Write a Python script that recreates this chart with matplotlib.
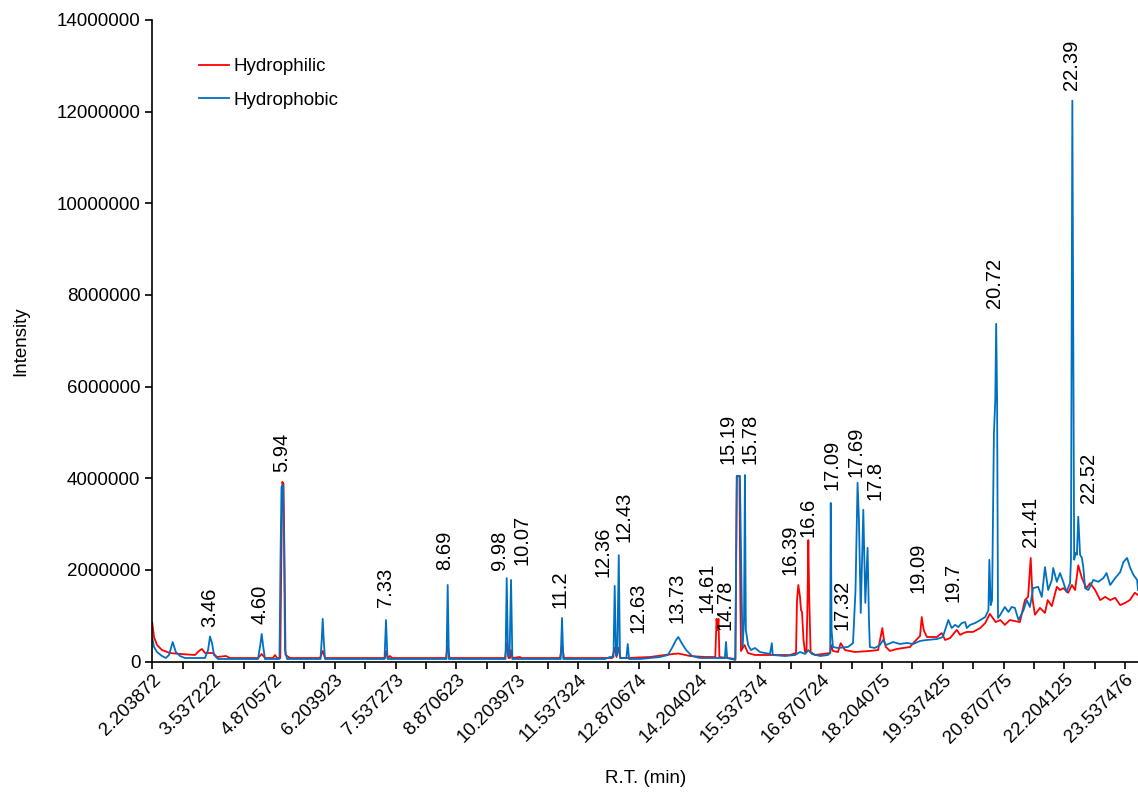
import matplotlib.pyplot as plt
import numpy as np

plt.rcParams['font.family'] = ['Liberation Sans', 'DejaVu Sans']

# chromatogram traces (R.T. in min, intensity)
red_rt = [2.204, 2.241, 2.307, 2.417, 2.592, 2.811, 3.140, 3.228, 3.294, 3.360,
          3.535, 3.622, 3.820, 3.908, 4.522, 4.603, 4.675, 4.851, 4.895, 4.939,
          5.011, 5.033, 5.055, 5.081, 5.103, 5.125, 5.224, 5.882, 5.941, 5.992,
          7.307, 7.329, 7.373, 7.416, 7.460, 8.645, 8.682, 8.722, 9.939, 9.976,
          10.015, 10.049, 10.071, 10.104, 10.267, 10.300, 11.145, 11.189, 11.233, 12.290,
          12.344, 12.384, 12.433, 12.472, 12.600, 13.120, 13.440, 13.740, 13.996, 14.330,
          14.550, 14.578, 14.600, 14.620, 14.640, 14.990, 15.022, 15.080, 15.100, 15.114,
          15.190, 15.267, 15.420, 16.190, 16.320, 16.342, 16.371, 16.393, 16.408, 16.430,
          16.452, 16.485, 16.518, 16.550, 16.574, 16.590, 16.610, 16.640, 16.737, 17.070,
          17.088, 17.130, 17.240, 17.300, 17.395, 17.610, 17.940, 18.120, 18.213, 18.250,
          18.290, 18.380, 18.530, 18.670, 18.820, 18.890, 19.000, 19.040, 19.077, 19.120,
          19.190, 19.410, 19.516, 19.590, 19.700, 19.845, 19.920, 19.990, 20.070, 20.200,
          20.360, 20.470, 20.570, 20.700, 20.800, 20.900, 21.010, 21.230, 21.340, 21.410,
          21.467, 21.510, 21.560, 21.670, 21.780, 21.840, 21.930, 22.040, 22.110, 22.180,
          22.290, 22.370, 22.440, 22.510, 22.590, 22.690, 22.770, 22.880, 22.990, 23.100,
          23.210, 23.320, 23.430, 23.540, 23.640, 23.750, 23.820]
red_int = [840000, 535000, 360000, 250000, 185000, 165000, 142000, 230000, 273000, 185000,
           185000, 98000, 120000, 76000, 76000, 164000, 76000, 76000, 142000, 76000,
           76000, 2220000, 3920000, 3880000, 2220000, 142000, 76000, 76000, 230000, 76000,
           76000, 230000, 76000, 120000, 76000, 76000, 360000, 76000, 76000, 400000,
           76000, 76000, 250000, 76000, 98000, 76000, 76000, 360000, 76000, 76000,
           300000, 98000, 300000, 76000, 76000, 98000, 142000, 175000, 120000, 98000,
           98000, 930000, 690000, 930000, 98000, 55000, 4050000, 4050000, 1300000, 230000,
           360000, 185000, 142000, 142000, 185000, 1340000, 1670000, 1520000, 1410000, 1120000,
           1080000, 470000, 207000, 207000, 1400000, 2650000, 1400000, 207000, 142000, 185000,
           360000, 230000, 207000, 400000, 250000, 207000, 230000, 250000, 730000, 470000,
           317000, 230000, 273000, 295000, 317000, 400000, 513000, 557000, 970000, 690000,
           535000, 535000, 620000, 470000, 513000, 690000, 580000, 620000, 645000, 645000,
           730000, 840000, 1040000, 860000, 905000, 800000, 905000, 860000, 1340000, 1410000,
           2260000, 1340000, 1020000, 1170000, 1060000, 1340000, 1210000, 1630000, 1560000, 1600000,
           1500000, 1670000, 1560000, 2100000, 1820000, 1600000, 1710000, 1560000, 1340000, 1410000,
           1340000, 1390000, 1230000, 1280000, 1340000, 1500000, 1450000]

blue_rt = [2.204, 2.241, 2.307, 2.417, 2.500, 2.570, 2.651, 2.720, 2.811, 2.920,
           3.360, 3.427, 3.469, 3.513, 3.557, 3.644, 4.522, 4.572, 4.603, 4.632,
           4.675, 4.993, 5.015, 5.037, 5.070, 5.092, 5.114, 5.160, 5.893, 5.919,
           5.941, 5.963, 5.990, 7.296, 7.329, 7.361, 8.656, 8.682, 8.708, 9.950,
           9.976, 10.004, 10.038, 10.071, 10.100, 11.160, 11.189, 11.217, 12.130, 12.240,
           12.318, 12.344, 12.373, 12.402, 12.433, 12.460, 12.600, 12.630, 12.660, 12.900,
           13.340, 13.510, 13.600, 13.690, 13.740, 13.800, 13.910, 14.040, 14.210, 14.760,
           14.785, 14.810, 14.990, 15.022, 15.090, 15.130, 15.150, 15.180, 15.200, 15.220,
           15.270, 15.330, 15.420, 15.530, 15.640, 15.750, 15.790, 15.810, 16.080, 16.300,
           16.410, 16.520, 16.590, 16.670, 16.850, 17.020, 17.070, 17.082, 17.100, 17.130,
           17.240, 17.460, 17.570, 17.625, 17.670, 17.700, 17.740, 17.796, 17.840, 17.890,
           17.920, 17.940, 18.050, 18.160, 18.230, 18.290, 18.450, 18.600, 18.750, 18.890,
           19.040, 19.190, 19.410, 19.540, 19.660, 19.735, 19.810, 19.880, 19.955, 20.030,
           20.065, 20.140, 20.250, 20.360, 20.470, 20.540, 20.560, 20.590, 20.620, 20.660,
           20.690, 20.710, 20.730, 20.750, 20.800, 20.900, 20.980, 21.050, 21.120, 21.200,
           21.310, 21.380, 21.450, 21.520, 21.630, 21.710, 21.780, 21.850, 21.930, 21.960,
           22.040, 22.110, 22.180, 22.250, 22.330, 22.350, 22.380, 22.420, 22.450, 22.480,
           22.510, 22.550, 22.590, 22.620, 22.660, 22.730, 22.840, 22.950, 23.060, 23.130,
           23.210, 23.320, 23.430, 23.500, 23.580, 23.650, 23.720, 23.800, 23.820]
blue_int = [510000, 317000, 207000, 120000, 76000, 142000, 425000, 207000, 120000, 76000,
            76000, 250000, 546000, 404000, 142000, 55000, 55000, 360000, 600000, 360000,
            55000, 55000, 2220000, 3810000, 3850000, 2640000, 250000, 55000, 55000, 470000,
            930000, 470000, 55000, 55000, 905000, 55000, 55000, 1670000, 55000, 55000,
            1820000, 120000, 120000, 1780000, 55000, 55000, 950000, 55000, 55000, 98000,
            98000, 1650000, 142000, 142000, 2320000, 76000, 76000, 382000, 55000, 55000,
            98000, 142000, 295000, 470000, 535000, 425000, 250000, 120000, 76000, 76000,
            425000, 76000, 33000, 4050000, 4050000, 1340000, 317000, 905000, 4070000, 690000,
            360000, 250000, 295000, 207000, 185000, 164000, 400000, 142000, 120000, 142000,
            207000, 164000, 250000, 164000, 120000, 142000, 185000, 3460000, 690000, 317000,
            295000, 317000, 400000, 1560000, 3900000, 3090000, 1060000, 3310000, 1280000, 2480000,
            905000, 317000, 295000, 360000, 470000, 360000, 425000, 382000, 404000, 382000,
            448000, 470000, 490000, 535000, 905000, 730000, 800000, 750000, 840000, 860000,
            730000, 800000, 840000, 905000, 970000, 1120000, 2220000, 1230000, 1340000, 4970000,
            5700000, 7370000, 5700000, 950000, 1020000, 1190000, 1080000, 1190000, 1170000, 905000,
            1120000, 1340000, 1190000, 1600000, 1630000, 1410000, 2060000, 1560000, 1780000, 2040000,
            1740000, 1930000, 1740000, 1520000, 1710000, 2220000, 12240000, 2220000, 2370000, 2330000,
            3160000, 2330000, 2260000, 2060000, 1600000, 1560000, 1780000, 1740000, 1820000, 1930000,
            1670000, 1820000, 1950000, 2170000, 2260000, 2040000, 1890000, 1780000, 1560000]

# peak labels and where they sit
peak_labels = ['3.46', '4.60', '5.94', '7.33', '8.69', '9.98', '10.07', '11.2', '12.36', '12.43',
               '12.63', '13.73', '14.61', '14.78', '15.19', '15.78', '16.39', '16.6', '17.09', '17.32',
               '17.69', '17.8', '19.09', '19.7', '20.72', '21.41', '22.39', '22.52']
peak_label_rt = [3.469, 4.566, 5.033, 7.322, 8.623, 9.807, 10.305, 11.145, 12.094, 12.548,
                 12.862, 13.704, 14.362, 14.770, 14.823, 15.312, 16.189, 16.577, 17.103, 17.336,
                 17.636, 18.060, 19.002, 19.770, 20.678, 21.452, 22.366, 22.730]
peak_label_y = [753000, 819000, 4140000, 1190000, 2000000, 2000000, 2110000, 1170000, 1840000, 2610000,
                622000, 841000, 1060000, 688000, 4300000, 4300000, 1890000, 2720000, 3740000, 688000,
                4030000, 3530000, 1500000, 1300000, 7720000, 2500000, 12480000, 3460000]

x_tick_labels = ['2.203872', '3.537222', '4.870572', '6.203923', '7.537273', '8.870623',
                 '10.203973', '11.537324', '12.870674', '14.204024', '15.537374', '16.870724',
                 '18.204075', '19.537425', '20.870775', '22.204125', '23.537476']

fig = plt.figure(figsize=(11.38, 7.92), dpi=100)
ax = fig.add_axes([152.3 / 1138, 1 - 661.5 / 792, (1138 - 152.3) / 1138, (661.5 - 20) / 792])

ax.plot(red_rt, red_int, color='#FF0000', lw=1.3, label='Hydrophilic')
ax.plot(blue_rt, blue_int, color='#0070C0', lw=1.3, label='Hydrophobic')

for txt, rt, yy in zip(peak_labels, peak_label_rt, peak_label_y):
    ax.text(rt, yy, txt, rotation=90, ha='center', va='bottom', fontsize=14.5)

# axes
ax.set_xlim(2.2039, 23.82)
ax.set_ylim(0, 14000000)
major = [float(s) for s in x_tick_labels]
ax.set_xticks(major)
ax.set_xticklabels(x_tick_labels, rotation=45, ha='right', rotation_mode='anchor')
ax.set_xticks([(a + b) / 2 for a, b in zip(major[:-1], major[1:])], minor=True)
ax.set_yticks(np.arange(0, 14000001, 2000000))
ax.set_yticklabels([str(v) for v in range(0, 14000001, 2000000)])
ax.tick_params(axis='both', which='both', direction='out', length=5, width=1.2, labelsize=13.5)
ax.tick_params(axis='x', which='major', pad=2)
for s in ['top', 'right']:
    ax.spines[s].set_visible(False)
for s in ['left', 'bottom']:
    ax.spines[s].set_linewidth(1.2)

ax.set_xlabel('R.T. (min)', fontsize=13.5)
ax.set_ylabel('Intensity', fontsize=13.5)
ax.xaxis.set_label_coords(0.5, -0.169)
ax.yaxis.set_label_coords(-0.125, 0.5)

ax.legend(loc='upper left', bbox_to_anchor=(199 / 1138, 1 - 58 / 792), bbox_transform=fig.transFigure,
          frameon=False, fontsize=13.5, borderpad=0, borderaxespad=0, handlelength=1.6,
          handletextpad=0.25, labelspacing=0.88)

plt.savefig('out.png', dpi=100)
